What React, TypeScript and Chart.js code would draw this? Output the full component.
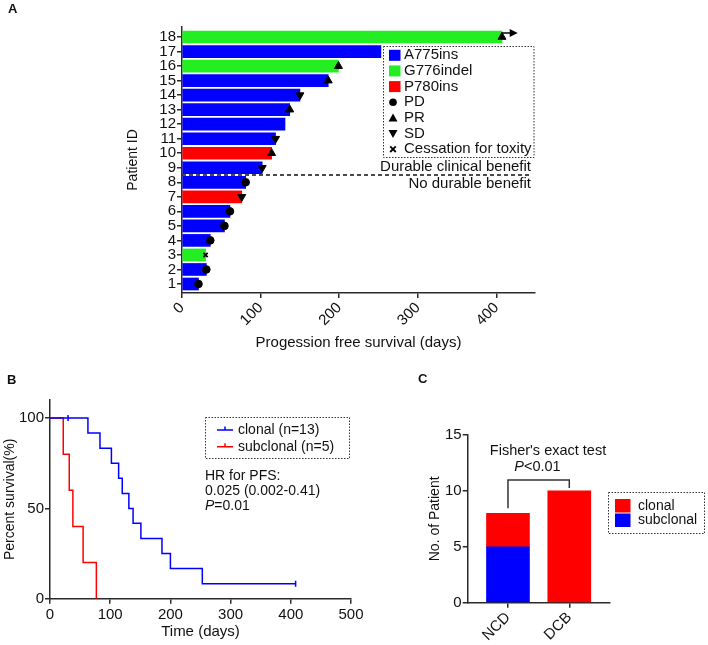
import React, { useEffect, useRef } from 'react';
import { Chart, registerables } from 'chart.js';

Chart.register(...registerables);

const FONT = "'Liberation Sans', Arial, Helvetica, sans-serif";
const INK = '#111111';
const AXIS = '#2a2a2a';
const BLUE = '#0000ff';
const RED = '#ff0000';
const GREEN = '#22ee22';

// ---------- Panel A data ----------
const patientIds = [1, 2, 3, 4, 5, 6, 7, 8, 9, 10, 11, 12, 13, 14, 15, 16, 17, 18];
const pfsDays = [21, 31, 30, 36, 54, 61, 76, 81, 102, 114, 119, 131, 137, 150, 186, 199, 253, 407];
const mutationTypes = [
  'A775ins', 'A775ins', 'G776indel', 'A775ins', 'A775ins', 'A775ins', 'P780ins', 'A775ins', 'A775ins',
  'P780ins', 'A775ins', 'A775ins', 'A775ins', 'A775ins', 'A775ins', 'G776indel', 'A775ins', 'G776indel',
];
const bestResponses = [
  'PD', 'PD', 'Cessation for toxity', 'PD', 'PD', 'PD', 'SD', 'PD', 'SD',
  'PR', 'SD', '', 'PR', 'SD', 'PR', 'PR', '', 'PR',
];
const mutationLegend = ['A775ins', 'G776indel', 'P780ins'];
const responseLegend = ['PD', 'PR', 'SD', 'Cessation for toxity'];
const mutationColors: Record<string, string> = { A775ins: BLUE, G776indel: GREEN, P780ins: RED };
const benefitCutoff = 8.5;
const cutoffLineEndDays = 443;
const ongoingArrowEndDays = 427;
const benefitLabels = ['Durable clinical benefit', 'No durable benefit'];

// ---------- Panel B data ----------
const clonalTimes = [0, 30, 63, 83, 102, 114, 120, 131, 138, 151, 186, 200, 253, 408];
const clonalSurvival = [100, 100, 91.7, 83.3, 75, 66.7, 58.3, 50, 41.7, 33.3, 25, 16.7, 8.3, 8.3];
const clonalCensored = [false, true, false, false, false, false, false, false, false, false, false, false, false, true];
const subclonalTimes = [0, 22, 32, 38, 55, 77];
const subclonalSurvival = [100, 80, 60, 40, 20, 0];
const subclonalCensored = [false, false, false, false, false, false];
const kmLegend = ['clonal (n=13)', 'subclonal (n=5)'];
const hrLines = ['HR for PFS:', '0.025 (0.002-0.41)'];

// ---------- Panel C data ----------
const benefitGroups = ['NCD', 'DCB'];
const clonalCounts = [3, 10];
const subclonalCounts = [5, 0];

function axisBase() {
  return {
    offset: false,
    border: { display: true, color: AXIS, width: 1.5 },
    grid: {
      display: true, drawOnChartArea: false, drawTicks: true, tickLength: 5,
      color: AXIS, lineWidth: 1.5, offset: false,
    },
  };
}

function txt(ctx: CanvasRenderingContext2D, s: string, x: number, y: number, size = 15, align: CanvasTextAlign = 'left', prefix = '') {
  ctx.font = `${prefix} ${size}px ${FONT}`;
  ctx.textAlign = align;
  ctx.textBaseline = 'middle';
  ctx.fillStyle = INK;
  ctx.fillText(s, x, y);
}

function dottedBox(ctx: CanvasRenderingContext2D, x: number, y: number, w: number, h: number) {
  ctx.save();
  ctx.setLineDash([1.5, 1.5]);
  ctx.lineWidth = 1;
  ctx.strokeStyle = '#333';
  ctx.strokeRect(x, y, w, h);
  ctx.restore();
}

function drawMarker(ctx: CanvasRenderingContext2D, kind: string, x: number, y: number) {
  ctx.save();
  ctx.fillStyle = '#000';
  ctx.strokeStyle = '#000';
  ctx.beginPath();
  if (kind === 'PD') {
    ctx.arc(x, y, 3.8, 0, Math.PI * 2);
    ctx.fill();
  } else if (kind === 'PR') {
    ctx.moveTo(x, y - 4.5); ctx.lineTo(x - 4.5, y + 3.5); ctx.lineTo(x + 4.5, y + 3.5); ctx.closePath(); ctx.fill();
  } else if (kind === 'SD') {
    ctx.moveTo(x, y + 4.5); ctx.lineTo(x - 4.5, y - 3.5); ctx.lineTo(x + 4.5, y - 3.5); ctx.closePath(); ctx.fill();
  } else {
    ctx.lineWidth = 1.8;
    ctx.moveTo(x - 2.8, y - 2.8); ctx.lineTo(x + 2.8, y + 2.8);
    ctx.moveTo(x + 2.8, y - 2.8); ctx.lineTo(x - 2.8, y + 2.8);
    ctx.stroke();
  }
  ctx.restore();
}

function makeA(canvas: HTMLCanvasElement) {
  const points = patientIds.map((id, i) => ({ x: pfsDays[i], y: id }));
  const plugin = {
    id: 'panelA',
    afterDatasetsDraw(chart: any) {
      const { ctx, scales } = chart;
      const i = patientIds.length - 1;
      const xs = scales.x.getPixelForValue(pfsDays[i]);
      const yc = scales.y.getPixelForValue(patientIds[i]);
      const xe = scales.x.getPixelForValue(ongoingArrowEndDays);
      ctx.save();
      ctx.strokeStyle = '#000';
      ctx.fillStyle = '#000';
      ctx.lineWidth = 1.5;
      ctx.beginPath();
      ctx.moveTo(xs, yc + 1);
      ctx.lineTo(xs, yc - 4);
      ctx.lineTo(xe - 6, yc - 4);
      ctx.stroke();
      ctx.beginPath();
      ctx.moveTo(xe, yc - 4);
      ctx.lineTo(xe - 8, yc - 8);
      ctx.lineTo(xe - 8, yc);
      ctx.closePath();
      ctx.fill();
      ctx.restore();
    },
    afterDraw(chart: any) {
      const ctx: CanvasRenderingContext2D = chart.ctx;
      ctx.save();
      txt(ctx, 'A', 8, 9, 13, 'left', 'bold');
      dottedBox(ctx, 383.5, 46.5, 150.5, 111);
      const rows = [...mutationLegend, ...responseLegend];
      rows.forEach((r, k) => {
        const cy = 55.3 + k * 15.65;
        if (k < mutationLegend.length) {
          ctx.fillStyle = mutationColors[r];
          ctx.fillRect(389, cy - 5.5, 11.5, 11);
        } else {
          drawMarker(ctx, r, 393, cy);
        }
        txt(ctx, r, 404, cy, 15);
      });
      txt(ctx, benefitLabels[0], 531, 166.5, 15, 'right');
      txt(ctx, benefitLabels[1], 531, 184, 15, 'right');
      ctx.restore();
    },
  };
  return new Chart(canvas, {
    type: 'scatter',
    data: {
      datasets: [
        {
          type: 'scatter',
          label: 'Response',
          data: points,
          order: 0,
          pointStyle: bestResponses.map((r) => (r === 'PD' || r === '' ? 'circle' : r === 'PR' || r === 'SD' ? 'triangle' : 'crossRot')),
          pointRotation: bestResponses.map((r) => (r === 'SD' ? 180 : 0)),
          pointRadius: bestResponses.map((r) => (r === '' ? 0 : r === 'PD' ? 3.8 : r === 'PR' || r === 'SD' ? 4.6 : 3)),
          pointHoverRadius: 0,
          pointBackgroundColor: '#000',
          pointBorderColor: '#000',
          pointBorderWidth: bestResponses.map((r) => (r.startsWith('Cess') ? 1.8 : 1)),
        } as any,
        {
          type: 'line',
          label: 'cutoff',
          data: [{ x: 0, y: benefitCutoff }, { x: cutoffLineEndDays, y: benefitCutoff }],
          borderColor: '#111',
          borderWidth: 1.5,
          borderDash: [4, 3],
          pointRadius: 0,
          order: 1,
        } as any,
        {
          type: 'bar',
          label: 'PFS',
          indexAxis: 'y',
          data: points,
          backgroundColor: mutationTypes.map((m) => mutationColors[m]),
          barThickness: 12,
          borderWidth: 0,
          order: 2,
        } as any,
      ],
    },
    options: {
      responsive: false,
      animation: false,
      devicePixelRatio: 1,
      layout: { padding: { left: 121, top: 27, right: 173, bottom: 0 } },
      plugins: { legend: { display: false }, tooltip: { enabled: false } },
      events: [],
      scales: {
        x: {
          ...axisBase(),
          type: 'linear',
          position: 'bottom',
          min: 0,
          max: 449,
          afterFit: (s: any) => { s.height = 63; },
          ticks: { stepSize: 100, includeBounds: false, minRotation: 45, maxRotation: 45, font: { size: 15 }, color: INK, padding: 1 },
          title: { display: true, text: 'Progession free survival (days)', font: { size: 15 }, color: INK },
        },
        y: {
          ...axisBase(),
          type: 'linear',
          position: 'left',
          min: 0.38,
          max: 18.69,
          afterFit: (s: any) => { s.width = 61; },
          ticks: { stepSize: 1, includeBounds: false, autoSkip: false, font: { size: 15 }, color: INK, padding: 1 },
          title: { display: true, text: 'Patient ID', font: { size: 14 }, color: INK },
        },
      },
    } as any,
    plugins: [plugin],
  });
}

function makeB(canvas: HTMLCanvasElement) {
  const clonalPts = clonalTimes.map((t, i) => ({ x: t, y: clonalSurvival[i] }));
  const subPts = subclonalTimes.map((t, i) => ({ x: t, y: subclonalSurvival[i] }));
  const plugin = {
    id: 'panelB',
    afterDraw(chart: any) {
      const ctx: CanvasRenderingContext2D = chart.ctx;
      ctx.save();
      txt(ctx, 'B', 7, 10, 13, 'left', 'bold');
      dottedBox(ctx, 205.5, 47.5, 144, 41);
      const colors = [BLUE, RED];
      kmLegend.forEach((label, k) => {
        const cy = 60 + k * 16.7;
        ctx.strokeStyle = colors[k];
        ctx.lineWidth = 1.5;
        ctx.beginPath();
        ctx.moveTo(217, cy); ctx.lineTo(233, cy);
        ctx.moveTo(225, cy); ctx.lineTo(225, cy - 3.5);
        ctx.stroke();
        txt(ctx, label, 238, cy, 14);
      });
      txt(ctx, hrLines[0], 205, 106, 14);
      txt(ctx, hrLines[1], 205, 120.7, 14);
      ctx.font = `italic 14px ${FONT}`;
      const pw = ctx.measureText('P').width;
      txt(ctx, 'P', 205, 136, 14, 'left', 'italic');
      txt(ctx, '=0.01', 205 + pw, 136, 14);
      ctx.restore();
    },
  };
  return new Chart(canvas, {
    type: 'scatter',
    data: {
      datasets: [
        {
          label: kmLegend[0],
          data: clonalPts,
          showLine: true,
          stepped: 'before',
          borderColor: BLUE,
          borderWidth: 1.5,
          pointStyle: 'line',
          pointRotation: 90,
          pointRadius: clonalCensored.map((c) => (c ? 3 : 0)),
          pointHoverRadius: 0,
          pointBorderColor: BLUE,
          pointBorderWidth: 1.5,
        } as any,
        {
          label: kmLegend[1],
          data: subPts,
          showLine: true,
          stepped: 'before',
          borderColor: RED,
          borderWidth: 1.5,
          pointStyle: 'line',
          pointRotation: 90,
          pointRadius: subclonalCensored.map((c) => (c ? 3 : 0)),
          pointHoverRadius: 0,
          pointBorderColor: RED,
          pointBorderWidth: 1.5,
        } as any,
      ],
    },
    options: {
      responsive: false,
      animation: false,
      devicePixelRatio: 1,
      events: [],
      layout: { padding: { left: 2, top: 30, right: 59, bottom: 0 } },
      plugins: { legend: { display: false }, tooltip: { enabled: false } },
      scales: {
        x: {
          ...axisBase(),
          type: 'linear',
          min: 0,
          max: 500,
          afterFit: (s: any) => { s.height = 46.3; },
          ticks: { stepSize: 100, font: { size: 15 }, color: INK, padding: 2, maxRotation: 0 },
          title: { display: true, text: 'Time (days)', font: { size: 15 }, color: INK },
        },
        y: {
          ...axisBase(),
          type: 'linear',
          min: 0,
          max: 110,
          afterFit: (s: any) => { s.width = 48; },
          ticks: { stepSize: 50, includeBounds: false, font: { size: 15 }, color: INK, padding: 1 },
          title: { display: true, text: 'Percent survival(%)', font: { size: 14 }, color: INK, padding: { top: 0, bottom: 0 } },
        },
      },
    } as any,
    plugins: [plugin],
  });
}

function makeC(canvas: HTMLCanvasElement) {
  const plugin = {
    id: 'panelC',
    afterDraw(chart: any) {
      const ctx: CanvasRenderingContext2D = chart.ctx;
      const { x, y } = chart.scales;
      ctx.save();
      txt(ctx, 'C', 8, 9, 13, 'left', 'bold');
      // bracket
      const x0 = x.getPixelForValue(0);
      const x1 = x.getPixelForValue(1);
      ctx.strokeStyle = '#333';
      ctx.lineWidth = 1.5;
      ctx.beginPath();
      ctx.moveTo(x0, y.getPixelForValue(8.45));
      ctx.lineTo(x0, y.getPixelForValue(10.97));
      ctx.lineTo(x1, y.getPixelForValue(10.97));
      ctx.lineTo(x1, y.getPixelForValue(10.25));
      ctx.stroke();
      txt(ctx, "Fisher's exact test", 138, 81, 14.5, 'center');
      ctx.font = `italic 14.5px ${FONT}`;
      const pw = ctx.measureText('P').width;
      ctx.font = `14.5px ${FONT}`;
      const rw = ctx.measureText('<0.01').width;
      const start = 127.5 - (pw + rw) / 2;
      txt(ctx, 'P', start, 97, 14.5, 'left', 'italic');
      txt(ctx, '<0.01', start + pw, 97, 14.5);
      // legend
      dottedBox(ctx, 198.5, 122.5, 96, 41);
      ctx.fillStyle = RED;
      ctx.fillRect(205, 129, 15.5, 13.5);
      ctx.fillStyle = BLUE;
      ctx.fillRect(205, 143.5, 15.5, 13.5);
      txt(ctx, 'clonal', 228, 135.7, 14);
      txt(ctx, 'subclonal', 228, 150, 14);
      ctx.restore();
    },
  };
  return new Chart(canvas, {
    type: 'scatter',
    data: {
      datasets: [
        {
          type: 'bar',
          label: 'subclonal',
          data: benefitGroups.map((_, i) => ({ x: i, y: subclonalCounts[i] })).filter((p) => p.y > 0),
          backgroundColor: BLUE,
          barThickness: 43,
          borderWidth: 0,
        } as any,
        {
          type: 'bar',
          label: 'clonal',
          data: benefitGroups.map((_, i) => ({ x: i, y: clonalCounts[i] })).filter((p) => p.y > 0),
          backgroundColor: RED,
          barThickness: 43,
          borderWidth: 0,
        } as any,
      ],
    },
    options: {
      responsive: false,
      animation: false,
      devicePixelRatio: 1,
      events: [],
      layout: { padding: { left: 12.6, top: 65, right: 98, bottom: 0 } },
      plugins: { legend: { display: false }, tooltip: { enabled: false } },
      scales: {
        x: {
          ...axisBase(),
          type: 'linear',
          min: -0.657,
          max: 1.664,
          stacked: true,
          afterBuildTicks: (s: any) => { s.ticks = benefitGroups.map((_, i) => ({ value: i })); },
          afterFit: (s: any) => { s.height = 42.3; },
          ticks: {
            autoSkip: false, minRotation: 45, maxRotation: 45, font: { size: 15 }, color: INK, padding: 1,
            callback: (v: any) => benefitGroups[v] ?? '',
          },
        },
        y: {
          ...axisBase(),
          type: 'linear',
          min: 0,
          max: 15,
          stacked: true,
          afterFit: (s: any) => { s.width = 45.1; },
          ticks: { stepSize: 5, includeBounds: false, font: { size: 15 }, color: INK, padding: 1 },
          title: { display: true, text: 'No. of Patient', font: { size: 14 }, color: INK },
        },
      },
    } as any,
    plugins: [plugin],
  });
}

export default function App() {
  const aRef = useRef<HTMLCanvasElement>(null);
  const bRef = useRef<HTMLCanvasElement>(null);
  const cRef = useRef<HTMLCanvasElement>(null);

  useEffect(() => {
    Chart.defaults.font.family = FONT;
    Chart.defaults.color = INK;
    const charts = [makeA(aRef.current!), makeB(bRef.current!), makeC(cRef.current!)];
    return () => charts.forEach((c) => c.destroy());
  }, []);

  return (
    <div style={{ position: 'absolute', left: 0, top: 0, width: 708, height: 645, background: '#fff', overflow: 'hidden' }}>
      <canvas ref={aRef} width={708} height={356} style={{ position: 'absolute', left: 0, top: 0, width: 708, height: 356 }} />
      <canvas ref={bRef} width={410} height={275} style={{ position: 'absolute', left: 0, top: 370, width: 410, height: 275 }} />
      <canvas ref={cRef} width={298} height={275} style={{ position: 'absolute', left: 410, top: 370, width: 298, height: 275 }} />
    </div>
  );
}
